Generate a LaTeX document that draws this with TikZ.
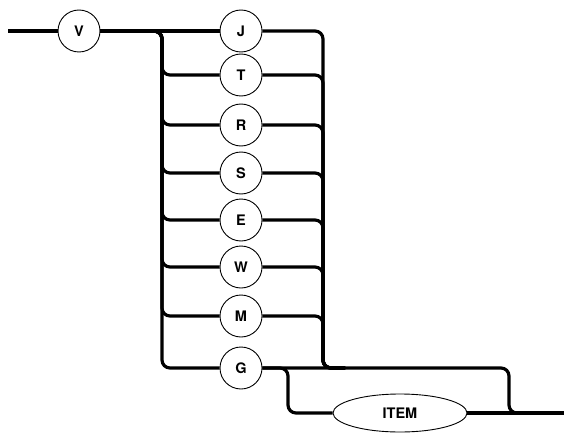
\documentclass[tikz,border=0pt]{standalone}
\usepackage{fontspec}
\setsansfont{TeX Gyre Heros}
\usepackage{tikz}
\usetikzlibrary{shapes.geometric}

\tikzset{
    rail/.style={line width=3.2pt, rounded corners=8pt},
    letter/.style={draw, circle, line width=0.9pt, minimum size=42pt, inner sep=0pt,
        font=\sffamily\bfseries\fontsize{14.5}{16}\selectfont},
    item/.style={draw, ellipse, line width=0.9pt, minimum width=134pt, minimum height=38pt,
        inner sep=0pt, font=\sffamily\bfseries\fontsize{14.5}{16}\selectfont}
}

\begin{document}
\begin{tikzpicture}[x=1pt, y=-1pt]
    \useasboundingbox (0,0) rectangle (564,433);

    % Entry and V
    \coordinate (start) at (8,31);
    \node[letter] (V) at (79,31) {V};

    % Letter choices
    \foreach \name/\y in {J/31, T/75, R/125, S/173, E/220, W/267, M/316, G/368} {
        \node[letter] (\name) at (241,\y) {\name};
    }

    % Exit and the optional ITEM
    \node[item] (ITEM) at (400,413) {ITEM};
    \coordinate (stop) at (564,413);

    % Main line
    \draw[rail] (start) -- (V);
    \draw[rail] (V) -- (J);

    % Left fork
    \foreach \name in {T, R, S, E, W, M, G} {
        \draw[rail] (V.east) -| (162,0 |- \name.west) -- (\name.west);
    }

    % Right join
    \foreach \name in {J, T, R, S, E, W, M} {
        \draw[rail] (\name.east) -| (323,368) -- (345,368);
    }

    % After G
    \draw[rail] (G.east) -| (509,413) -- (stop);
    \draw[rail] (G.east) -| (288,413) -- (ITEM.west);
    \draw[rail] (ITEM.east) -- (stop);
\end{tikzpicture}
\end{document}
